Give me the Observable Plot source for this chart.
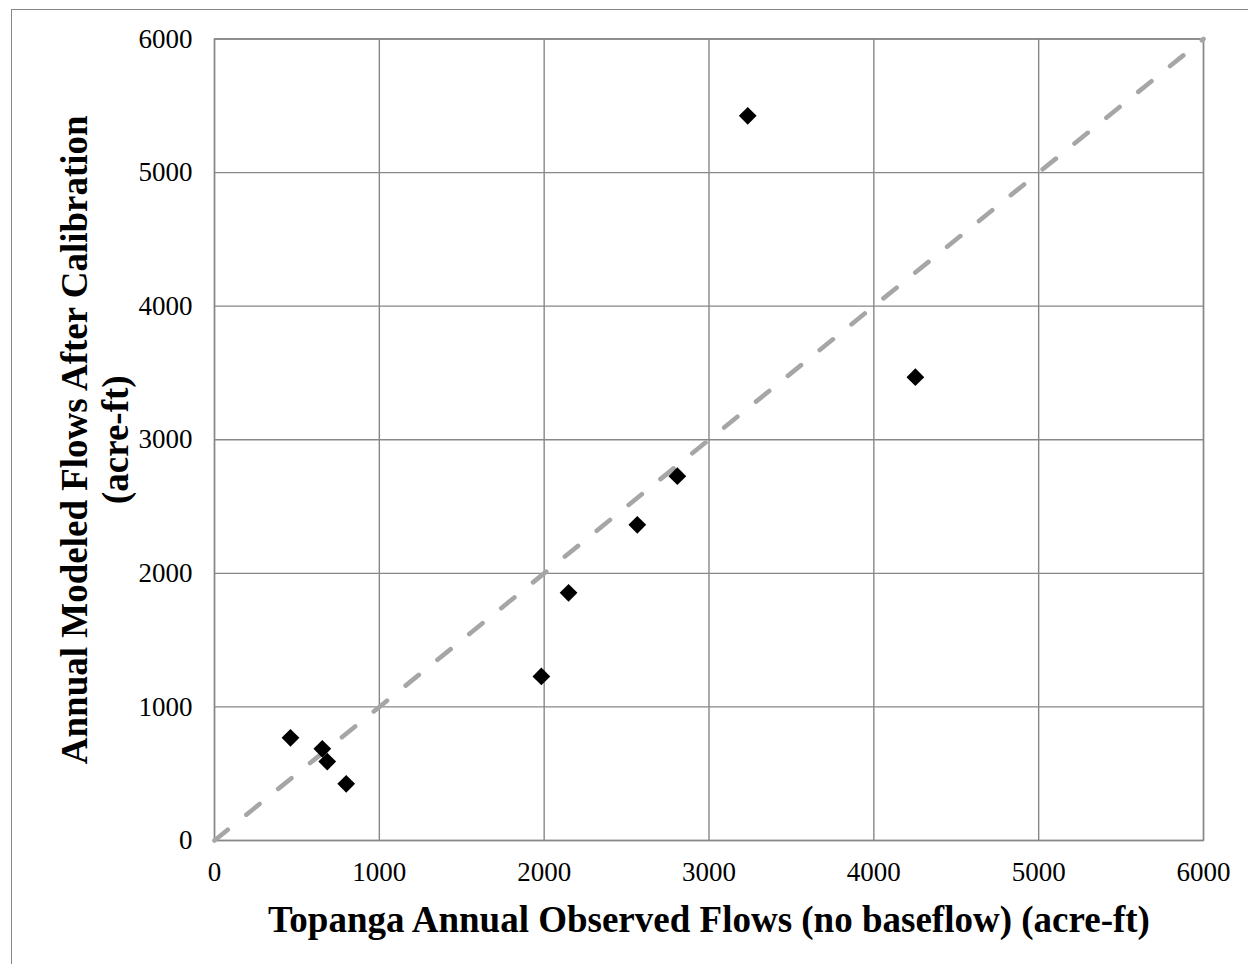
<!DOCTYPE html>
<html>
<head>
<meta charset="utf-8">
<script src="https://cdn.jsdelivr.net/npm/d3@7"></script>
<script src="https://cdn.jsdelivr.net/npm/@observablehq/plot@0.6"></script>
<style>
  html, body { margin: 0; padding: 0; background: #fff; overflow: hidden; }
  #wrap { position: relative; width: 1248px; height: 964px; }
  #border { position: absolute; left: 11px; top: 9px; width: 1300px; height: 1000px;
            border-left: 1.5px solid #878787; border-top: 1.5px solid #878787; box-sizing: border-box; }
  #chart { position: absolute; left: 0; top: 0; }
</style>
</head>
<body>
<div id="wrap"><div id="border"></div><div id="chart"></div></div>
<script>
// Topanga annual flows (acre-ft)
const observed = [461, 654, 684, 799, 1983, 2148, 2565, 2808, 3235, 4252];
const modeled  = [769, 686, 591, 424, 1228, 1854, 2363, 2727, 5425, 3468];
const axisTicks = [0, 1000, 2000, 3000, 4000, 5000, 6000];
const oneToOne = [0, 6000];
const xTitle = "Topanga Annual Observed Flows (no baseflow) (acre-ft)";
const yTitle1 = "Annual Modeled Flows After Calibration";
const yTitle2 = "(acre-ft)";

const points = observed.map((o, i) => ({observed: o, modeled: modeled[i]}));
const diag = oneToOne.map(v => ({x: v, y: v}));

const gridColor = "#878787";
const serif = "'Liberation Serif', 'Times New Roman', serif";

const chart = Plot.plot({
  width: 1248,
  height: 964,
  marginLeft: 214,
  marginRight: 45,
  marginTop: 38.5,
  marginBottom: 124,
  style: {fontFamily: serif, fontSize: "27px", color: "#000", background: "transparent"},
  x: {domain: [0, 6000], label: null},
  y: {domain: [0, 6000], label: null},
  marks: [
    Plot.gridX(axisTicks, {stroke: gridColor, strokeOpacity: 1, strokeWidth: 1.4}),
    Plot.gridY(axisTicks, {stroke: gridColor, strokeOpacity: 1, strokeWidth: 1.4}),
    Plot.frame({stroke: gridColor, strokeWidth: 1.4}),
    Plot.axisX({ticks: axisTicks, tickSize: 0, tickPadding: 21, tickFormat: d => String(d), label: null, fontSize: 27}),
    Plot.axisY({ticks: axisTicks, tickSize: 0, tickPadding: 22, tickFormat: d => String(d), label: null, fontSize: 27}),
    Plot.line(diag, {x: "x", y: "y", stroke: "#A6A6A6", strokeWidth: 4.6, strokeDasharray: "17,24", strokeLinecap: "round"}),
    Plot.dot(points, {x: "observed", y: "modeled", symbol: "diamond2", r: 8, fill: "#000", stroke: "none"}),
    Plot.text([xTitle], {frameAnchor: "bottom", dy: 91, text: d => d, fontSize: 37, fontWeight: "bold", fill: "#000", textAnchor: "middle"}),
    Plot.text([yTitle1], {frameAnchor: "left", dx: -139, rotate: -90, text: d => d, fontSize: 37, fontWeight: "bold", fill: "#000", textAnchor: "middle"}),
    Plot.text([yTitle2], {frameAnchor: "left", dx: -98, rotate: -90, text: d => d, fontSize: 37, fontWeight: "bold", fill: "#000", textAnchor: "middle"})
  ]
});
document.getElementById("chart").appendChild(chart);
</script>
</body>
</html>
